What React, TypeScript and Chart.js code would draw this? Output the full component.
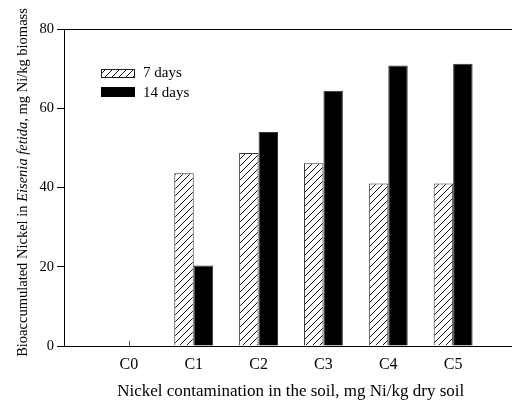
import React, { useEffect, useRef } from "react";
import { Chart, registerables } from "chart.js";

Chart.register(...registerables);

const categories = ["C0", "C1", "C2", "C3", "C4", "C5"];
const days7 = [0, 43.6, 48.7, 46.1, 41.0, 41.0];
const days14 = [0, 20.3, 54.0, 64.4, 70.8, 71.2];
const yTicks = [0, 20, 40, 60, 80];
const seriesNames = ["7 days", "14 days"];
const xTitle = "Nickel contamination in the soil, mg Ni/kg dry soil";
const yTitleParts = [
  { text: "Bioaccumulated Nickel in ", italic: false },
  { text: "Eisenia fetida,", italic: true },
  { text: " mg Ni/kg biomass", italic: false },
];

const FONT = "'Liberation Serif', 'Times New Roman', serif";

function makeHatch(): CanvasPattern | string {
  const s = 7;
  const c = document.createElement("canvas");
  c.width = s;
  c.height = s;
  const g = c.getContext("2d");
  if (!g) return "#fff";
  g.fillStyle = "#fff";
  g.fillRect(0, 0, s, s);
  g.strokeStyle = "#111";
  g.lineWidth = 1;
  g.beginPath();
  g.moveTo(-1, s + 1);
  g.lineTo(s + 1, -1);
  g.moveTo(-1, 1);
  g.lineTo(1, -1);
  g.moveTo(s - 1, s + 1);
  g.lineTo(s + 1, s - 1);
  g.stroke();
  const p = g.createPattern(c, "repeat");
  return p || "#fff";
}

export default function App() {
  const ref = useRef<HTMLCanvasElement | null>(null);

  useEffect(() => {
    const canvas = ref.current;
    if (!canvas) return;
    const hatch = makeHatch();

    const labels = ["", ...categories, ""];
    const d7 = [null, ...days7, null];
    const d14 = [null, ...days14, null];

    const decor = {
      id: "decor",
      afterDraw(chart: any) {
        const ctx = chart.ctx as CanvasRenderingContext2D;
        const a = chart.chartArea;
        ctx.save();
        // top frame line
        ctx.strokeStyle = "#000";
        ctx.lineWidth = 1;
        ctx.beginPath();
        ctx.moveTo(a.left, a.top + 0.5);
        ctx.lineTo(a.right, a.top + 0.5);
        ctx.stroke();

        // zero-height bar edge at C0
        const xs = chart.scales.x;
        const c0 = Math.round(xs.getPixelForValue(1)) + 0.5;
        ctx.strokeStyle = "#555";
        ctx.beginPath();
        ctx.moveTo(c0, a.bottom - 5);
        ctx.lineTo(c0, a.bottom);
        ctx.stroke();

        // legend
        const lx = 101;
        const bw = 34;
        ctx.fillStyle = hatch as any;
        ctx.fillRect(lx, 69, bw, 9);
        ctx.strokeStyle = "#222";
        ctx.strokeRect(lx + 0.5, 69.5, bw - 1, 8);
        ctx.fillStyle = "#000";
        ctx.fillRect(lx, 87, bw, 10);
        ctx.font = `15px ${FONT}`;
        ctx.textBaseline = "middle";
        ctx.textAlign = "left";
        ctx.fillStyle = "#000";
        ctx.fillText(seriesNames[0], 143, 73.5);
        ctx.fillText(seriesNames[1], 143, 93);

        // x title
        ctx.font = `17px ${FONT}`;
        ctx.textAlign = "center";
        ctx.textBaseline = "alphabetic";
        ctx.fillText(xTitle, 290.7, 396);

        // y title (rotated, mixed italic)
        ctx.textAlign = "left";
        const fonts = yTitleParts.map((p) =>
          p.italic ? `italic 14.5px ${FONT}` : `14.5px ${FONT}`
        );
        let total = 0;
        const widths = yTitleParts.map((p, i) => {
          ctx.font = fonts[i];
          const w = ctx.measureText(p.text).width;
          total += w;
          return w;
        });
        ctx.translate(26.5, 182.5);
        ctx.rotate(-Math.PI / 2);
        let x = -total / 2;
        yTitleParts.forEach((p, i) => {
          ctx.font = fonts[i];
          ctx.fillText(p.text, x, 0);
          x += widths[i];
        });
        ctx.restore();
      },
    };

    const chart = new Chart(canvas, {
      type: "bar",
      data: {
        labels,
        datasets: [
          {
            label: seriesNames[0],
            data: d7 as any,
            backgroundColor: hatch as any,
            borderColor: "#333",
            borderWidth: 1,
          },
          {
            label: seriesNames[1],
            data: d14 as any,
            backgroundColor: "#000",
            borderColor: "#333",
            borderWidth: 1,
          },
        ],
      },
      options: {
        responsive: false,
        animation: false,
        events: [],
        layout: { padding: { top: 29, right: 12, left: 0, bottom: 0 } },
        datasets: {
          bar: { categoryPercentage: 0.6, barPercentage: 1.0 },
        } as any,
        plugins: {
          legend: { display: false },
          tooltip: { enabled: false },
        },
        scales: {
          x: {
            type: "category",
            offset: false,
            grid: { display: false, drawTicks: false },
            border: { display: true, color: "#000", width: 1 },
            ticks: {
              autoSkip: false,
              maxRotation: 0,
              minRotation: 0,
              padding: 9,
              color: "#000",
              font: { family: FONT, size: 16 },
            },
            afterFit: (s: any) => {
              s.height = 58;
            },
          },
          y: {
            min: 0,
            max: 80,
            afterBuildTicks: (s: any) => {
              s.ticks = yTicks.map((v) => ({ value: v }));
            },
            grid: {
              drawOnChartArea: false,
              drawTicks: true,
              tickLength: 7,
              color: "#000",
            },
            border: { display: true, color: "#000", width: 1 },
            ticks: {
              padding: 3,
              color: "#000",
              font: { family: FONT, size: 14.5 },
            },
            afterFit: (s: any) => {
              s.width = 64;
            },
          },
        },
      },
      plugins: [decor],
    });

    return () => {
      chart.destroy();
    };
  }, []);

  return (
    <div
      style={{
        position: "fixed",
        left: 0,
        top: 0,
        width: 512,
        height: 404,
        overflow: "hidden",
        background: "#fff",
      }}
    >
      <canvas ref={ref} width={530} height={404} style={{ display: "block" }} />
    </div>
  );
}
